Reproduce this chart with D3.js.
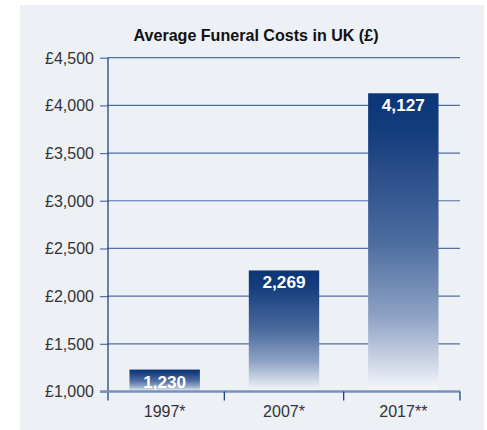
<!DOCTYPE html>
<html>
<head>
<meta charset="utf-8">
<script src="https://cdn.jsdelivr.net/npm/d3@7"></script>
<style>
  body { margin: 0; background: #fff; }
  svg { display: block; }
  .tick text { font-family: "Liberation Sans", Arial, sans-serif; font-size: 16px; fill: #333; }
</style>
</head>
<body>
<script>
var w = 487;
var h = 430;

// data
var years = ["1997*", "2007*", "2017**"];
var costs = [1230, 2269, 4127];
var yTicks = [1000, 1500, 2000, 2500, 3000, 3500, 4000, 4500];
var title = "Average Funeral Costs in UK (\u00a3)";

var svg = d3.select("body")
    .append("svg")
    .attr("width", w)
    .attr("height", h);

// light panel
svg.append("rect")
    .attr("x", 20)
    .attr("y", 5)
    .attr("width", 464)
    .attr("height", 425)
    .attr("fill", "#edf0f5");

var defs = svg.append("defs");
var grad = defs.append("linearGradient")
    .attr("id", "barGrad")
    .attr("x1", 0).attr("y1", 0)
    .attr("x2", 0).attr("y2", 1);
grad.append("stop").attr("offset", "0%").attr("stop-color", "#0a3577");
grad.append("stop").attr("offset", "12%").attr("stop-color", "#133c7c");
grad.append("stop").attr("offset", "50%").attr("stop-color", "#4d6c9f");
grad.append("stop").attr("offset", "75%").attr("stop-color", "#8ea3c4");
grad.append("stop").attr("offset", "90%").attr("stop-color", "#ccd5e5");
grad.append("stop").attr("offset", "100%").attr("stop-color", "#f8f9fc");

var plotL = 108, plotR = 460, plotT = 57.7, plotB = 391.5;

var xScale = d3.scaleBand()
    .domain(years)
    .range([plotL, plotR])
    .paddingInner(0.41)
    .paddingOuter(0.18);

var yScale = d3.scaleLinear()
    .domain([1000, 4500])
    .range([plotB, plotT]);

// gridlines
svg.append("g")
    .selectAll("line")
    .data(yTicks.slice(1))
    .enter()
    .append("line")
    .attr("x1", plotL)
    .attr("x2", plotR)
    .attr("y1", function(d) { return yScale(d); })
    .attr("y2", function(d) { return yScale(d); })
    .attr("stroke", "#4f6ea3")
    .attr("stroke-width", 1.2);

// y axis labels + short ticks
var yAxis = svg.append("g")
    .attr("transform", "translate(" + plotL + ",0)")
    .call(d3.axisLeft(yScale)
        .tickValues(yTicks)
        .tickSize(8)
        .tickPadding(6)
        .tickFormat(function(d) { return "\u00a3" + d3.format(",")(d); }));
yAxis.select(".domain").remove();
yAxis.selectAll(".tick line").attr("stroke", "#4f6ea3").attr("stroke-width", 1.2);
yAxis.selectAll(".tick text").attr("dy", "0.34em");

// bars
svg.selectAll(".bar")
    .data(costs)
    .enter()
    .append("rect")
    .attr("class", "bar")
    .attr("x", function(d, i) { return xScale(years[i]); })
    .attr("y", function(d) { return yScale(d); })
    .attr("width", xScale.bandwidth())
    .attr("height", function(d) { return plotB - yScale(d); })
    .attr("fill", "url(#barGrad)");

svg.selectAll(".val")
    .data(costs)
    .enter()
    .append("text")
    .attr("class", "val")
    .attr("x", function(d, i) { return xScale(years[i]) + xScale.bandwidth() / 2; })
    .attr("y", function(d) { return yScale(d) + 18; })
    .attr("text-anchor", "middle")
    .attr("font-family", "'Liberation Sans', Arial, sans-serif")
    .attr("font-weight", "bold")
    .attr("font-size", 17)
    .attr("textLength", 43)
    .attr("lengthAdjust", "spacingAndGlyphs")
    .attr("fill", "#fff")
    .text(function(d) { return d3.format(",")(d); });

// y axis line
svg.append("line")
    .attr("x1", plotL).attr("x2", plotL)
    .attr("y1", plotT).attr("y2", plotB + 9)
    .attr("stroke", "#1d4388")
    .attr("stroke-width", 1.3);

// bottom axis
svg.append("line")
    .attr("x1", 100).attr("x2", plotR)
    .attr("y1", plotB).attr("y2", plotB)
    .attr("stroke", "#7890bd")
    .attr("stroke-width", 2.5);

var edges = years.map(function(d) { return xScale(d) - xScale.step() * xScale.paddingInner() / 2; });
edges.push(plotR);
svg.append("g")
    .selectAll("line")
    .data(edges.slice(1))
    .enter()
    .append("line")
    .attr("x1", function(d) { return d; })
    .attr("x2", function(d) { return d; })
    .attr("y1", plotB)
    .attr("y2", plotB + 9)
    .attr("stroke", "#1d4388")
    .attr("stroke-width", 1.3);

var xAxis = svg.append("g")
    .attr("transform", "translate(0," + plotB + ")")
    .call(d3.axisBottom(xScale).tickSize(0).tickPadding(14));
xAxis.select(".domain").remove();

// title
svg.append("text")
    .attr("x", 256)
    .attr("y", 41)
    .attr("text-anchor", "middle")
    .attr("font-family", "'Liberation Sans', Arial, sans-serif")
    .attr("font-weight", "bold")
    .attr("font-size", 17)
    .attr("textLength", 245)
    .attr("lengthAdjust", "spacingAndGlyphs")
    .attr("fill", "#111")
    .text(title);
</script>
</body>
</html>
